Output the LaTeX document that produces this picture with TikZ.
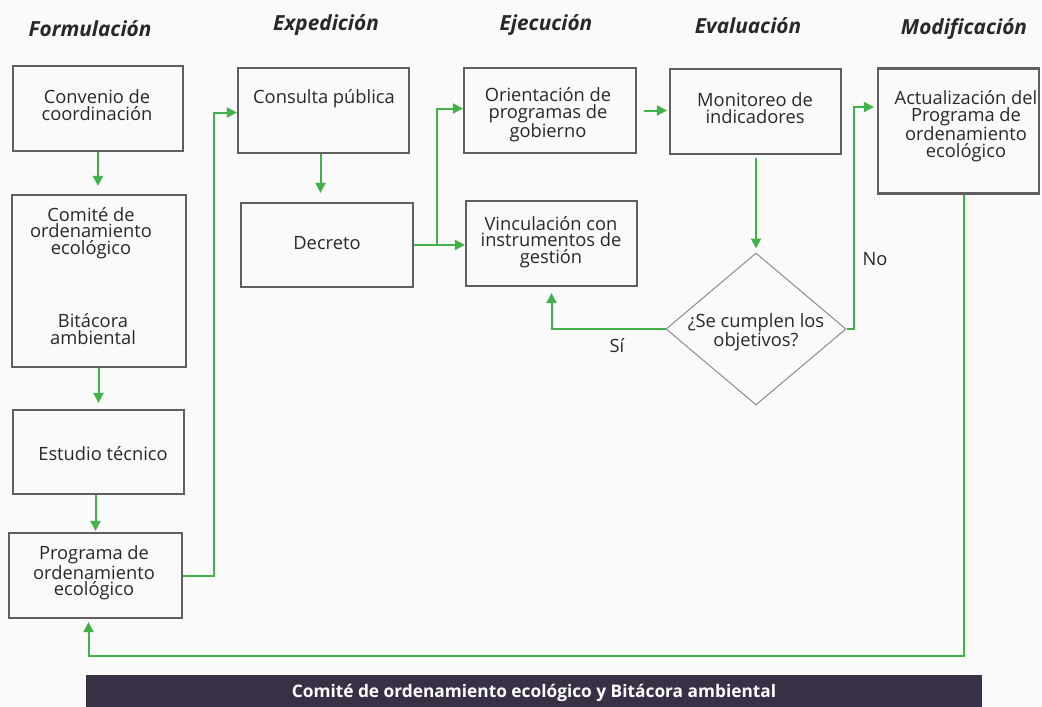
\documentclass[tikz,border=0pt]{standalone}
\usepackage{fontspec}
\setmainfont{Open Sans}
\usetikzlibrary{arrows.meta,shapes.geometric,calc}
\definecolor{grn}{RGB}{64,178,72}
\definecolor{bordergray}{RGB}{95,95,95}
\definecolor{diagray}{RGB}{140,140,140}
\definecolor{barcol}{RGB}{58,48,70}
\definecolor{bgcol}{RGB}{250,250,250}
\definecolor{txt}{RGB}{40,40,40}
\begin{document}
\begin{tikzpicture}[x=1pt,y=-1pt,
  box/.style={draw=bordergray, line width=2.2pt, rectangle, inner sep=0pt},
  decision/.style={draw=diagray, line width=1pt, diamond, inner sep=0pt},
  lbl/.style={align=center, font=\fontsize{18.3}{16.8}\selectfont, text=txt, inner sep=0pt},
  head/.style={font=\fontsize{20.8}{22}\selectfont\bfseries\itshape, text=txt, inner sep=0pt},
  arr/.style={draw=grn, line width=2pt, -{Triangle[length=10pt,width=10pt]}},
  flow/.style={draw=grn, line width=2pt}
]
% background / bounding box
\fill[bgcol] (0,0) rectangle (1042,707);
\useasboundingbox (0,0) rectangle (1042,707);

% headers
\node[head] (h1) at (90,29) {Formulación};
\node[head] (h2) at (326,25) {Expedición};
\node[head] (h3) at (546,25) {Ejecución};
\node[head] (h4) at (748,26) {Evaluación};
\node[head] (h5) at (964,29) {Modificación};

% boxes
\node[box, minimum width=170pt, minimum height=85pt] (conv) at (98,108.5) {};
\node[box, minimum width=174pt, minimum height=172pt] (comite) at (99,281) {};
\node[box, minimum width=171pt, minimum height=84pt] (estudio) at (98.5,452) {};
\node[box, minimum width=173pt, minimum height=85pt] (prog) at (95.5,575.5) {};
\node[box, minimum width=171pt, minimum height=85pt] (consulta) at (323.5,110.5) {};
\node[box, minimum width=172pt, minimum height=84pt] (decreto) at (327,245) {};
\node[box, minimum width=172pt, minimum height=85pt] (orient) at (550,110.5) {};
\node[box, minimum width=171pt, minimum height=85pt] (vinc) at (551.5,243.5) {};
\node[box, minimum width=171pt, minimum height=85pt] (monit) at (755.5,111.5) {};
\node[box, minimum width=161pt, minimum height=125pt] (actual) at (958.5,131) {};
\node[decision, minimum width=180pt, minimum height=152pt] (dec) at (756,329) {};

% box texts
\node[lbl] (tconv) at (97,105) {Convenio de\\coordinación};
\node[lbl] (tcom) at (91,233) {Comité de\\ordenamiento\\ecológico};
\node[lbl] (tbit) at (93,329) {Bitácora\\ambiental};
\node[lbl] (test) at (103,454) {Estudio técnico};
\node[lbl] (tprog) at (94,573) {Programa de\\ordenamiento\\ecológico};
\node[lbl] (tcons) at (324,99) {Consulta pública};
\node[lbl] (tdec) at (327,243) {Decreto};
\node[lbl] (tor) at (548,115) {Orientación de\\programas de\\gobierno};
\node[lbl] (tvin) at (551,242) {Vinculación con\\instrumentos de\\gestión};
\node[lbl] (tmon) at (755,108) {Monitoreo de\\indicadores};
\node[lbl] (tact) at (966,126) {Actualización del\\Programa de\\ordenamiento\\ecológico};
\node[lbl] (tdq) at (756,332) {¿Se cumplen los\\objetivos?};

% edge labels
\node[lbl] (si) at (617,346) {Sí};
\node[lbl] (no) at (875,259) {No};

% connectors
\draw[arr, shorten >=8pt] (conv.south) -- (conv.south |- comite.north);
\draw[arr, shorten >=6pt] (estudio.north |- comite.south) -- (estudio.north);
\draw[arr, shorten >=1pt] (prog.north |- estudio.south) -- (prog.north);
\draw[arr] (prog.east) -- ++(31,0) |- ([yshift=-2pt]consulta.west);
\draw[arr, shorten >=9pt] ([xshift=-3pt]consulta.south) -- ([xshift=-3pt]consulta.south |- decreto.north);
\coordinate (jn) at ($(decreto.east)+(23,0)$);
\draw[arr] (decreto.east) -- (decreto.east -| vinc.west);
\draw[arr] (jn) |- ([yshift=2pt]orient.west);
\draw[arr, shorten <=7pt, shorten >=2pt] (orient.east) -- (orient.east -| monit.west);
\draw[arr, shorten <=3pt, shorten >=4pt] (monit.south -| dec.north) -- (dec.north);
\draw[arr, shorten >=6pt] (dec.west) -| (vinc.south);
\draw[arr, shorten >=3pt] (dec.east) -- ++(7,0) |- ([yshift=24pt]actual.west);
\draw[arr, shorten >=3pt] ([xshift=5.5pt]actual.south) -- ++(0,461.5) -| ([xshift=-7pt]prog.south);

% bottom bar
\node[fill=barcol, minimum width=896pt, minimum height=36pt, inner sep=0pt,
      font=\fontsize{17.3}{18}\selectfont\bfseries, text=white] (bar) at (534,693)
      {\raisebox{4pt}{Comité de ordenamiento ecológico y Bitácora ambiental}};
\end{tikzpicture}
\end{document}
